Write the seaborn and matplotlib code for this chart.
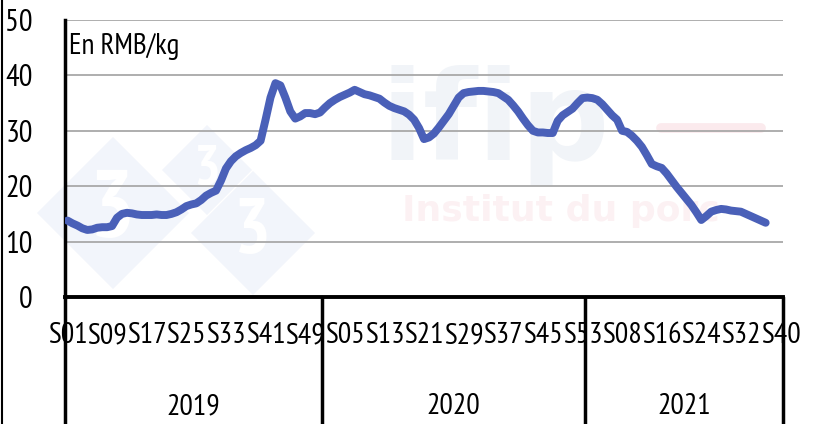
import matplotlib
matplotlib.use("Agg")
import matplotlib.pyplot as plt
from matplotlib.lines import Line2D
from matplotlib.patches import Polygon
import seaborn as sns
import pandas as pd
import numpy as np

# ---- data (RMB/kg, weekly) ----
prices_2019 = [13.8, 13.3, 12.9, 12.4, 12.1, 12.2, 12.5, 12.6, 12.6, 12.8,
               14.3, 15.0, 15.2, 15.1, 14.9, 14.8, 14.8, 14.8, 14.9, 14.8,
               14.8, 15.0, 15.3, 15.8, 16.4, 16.7, 16.9, 17.5, 18.3, 18.8,
               19.2, 21.0, 23.2, 24.5, 25.4, 26.0, 26.5, 26.9, 27.4, 28.2,
               32.0, 36.0, 38.6, 38.2, 36.0, 33.5, 32.2, 32.6, 33.2, 33.2,
               33.0, 33.3]
prices_2020 = [34.2, 35.0, 35.6, 36.1, 36.5, 36.9, 37.4, 37.0, 36.6, 36.4,
               36.1, 35.8, 35.1, 34.5, 34.1, 33.8, 33.5, 32.9, 32.0, 30.5,
               28.5, 28.8, 29.5, 30.6, 31.8, 33.0, 34.5, 36.0, 36.8, 37.0,
               37.1, 37.2, 37.2, 37.1, 37.0, 36.8, 36.2, 35.6, 34.6, 33.5,
               32.2, 31.0, 30.0, 29.7, 29.7, 29.6, 29.6, 31.8, 32.8, 33.4,
               34.0, 35.0, 35.9]
prices_2021 = [36.0, 35.9, 35.6, 34.8, 33.8, 32.8, 32.0, 30.0, 29.8, 29.1,
               28.2, 27.1, 25.6, 24.0, 23.6, 23.3, 22.3, 21.1, 19.9, 18.8,
               17.7, 16.6, 15.3, 13.9, 14.6, 15.4, 15.7, 15.9, 15.8, 15.6,
               15.5, 15.4, 15.0, 14.6, 14.2, 13.8, 13.4]
years = ["2019", "2020", "2021"]
weeks_per_year = [52, 53, 40]
unit_label = "En RMB/kg"
y_ticks = [0, 10, 20, 30, 40, 50]

# ---- build table ----
rows = []
for yr, nweeks, vals in zip(years, weeks_per_year,
                            [prices_2019, prices_2020, prices_2021]):
    for w in range(1, nweeks + 1):
        v = vals[w - 1] if w <= len(vals) else np.nan
        rows.append({"year": yr, "week": w, "price": v})
df = pd.DataFrame(rows)
df["idx"] = np.arange(len(df))
df["label"] = ["S%02d" % w for w in df["week"]]
n = len(df)

sns.set_style("white")
FONT = ["PT Sans Narrow", "DejaVu Sans"]
plt.rcParams["font.family"] = FONT
plt.rcParams["text.color"] = "black"
plt.rcParams["xtick.color"] = "black"
plt.rcParams["ytick.color"] = "black"

W, H = 820, 424
fig = plt.figure(figsize=(W / 100, H / 100), dpi=100)
L, R, T, B = 65 / W, 783 / W, 1 - 20 / H, 1 - 297 / H
ax = fig.add_axes([L, B, R - L, T - B])

# faint watermarks (3tres3 diamonds, ifip logo)
def px(x, y):
    return (x / W, 1 - y / H)
for c, hw in [((113, 213), 76), ((207, 170), 45), ((253, 233), 62)]:
    cx, cy = c
    pts = [px(cx - hw, cy), px(cx, cy - hw), px(cx + hw, cy), px(cx, cy + hw)]
    fig.add_artist(Polygon(pts, closed=True, transform=fig.transFigure,
                           facecolor="#f2f5fb", edgecolor="none", zorder=-1))
    fig.text(cx / W, 1 - cy / H, "3", fontsize=hw * 0.9, color="white",
             ha="center", va="center", fontweight="bold", zorder=-1)
ax.patch.set_alpha(0)
ax.text(0.60, 0.62, "ifip", transform=ax.transAxes, fontsize=90,
        color="#f1f4f8", fontweight="bold", ha="center", va="center",
        family="DejaVu Sans", zorder=0)
ax.text(0.69, 0.31, "Institut du porc", transform=ax.transAxes, fontsize=26,
        color="#fcf1f3", fontweight="bold", ha="center", va="center",
        family="DejaVu Sans", zorder=0)
ax.add_line(Line2D([0.83, 0.97], [0.61, 0.61], transform=ax.transAxes,
                   color="#fbeaed", lw=7, solid_capstyle="round", zorder=0))

sns.lineplot(data=df, x="idx", y="price", ax=ax, color="#4a60b8",
             linewidth=5.7, zorder=3)
for l in ax.get_lines():
    l.set_solid_capstyle("round")
    l.set_solid_joinstyle("round")

ax.set_xlim(-0.5, n - 0.5)
ax.set_ylim(0, 50)
ax.set_yticks(y_ticks)
ax.set_yticklabels([str(t) for t in y_ticks], fontsize=22)
tick_pos = df["idx"][::8].tolist()
ax.set_xticks(tick_pos)
ax.set_xticklabels(df["label"][::8].tolist(), fontsize=21.5)
ax.tick_params(axis="x", length=0, pad=18)
ax.tick_params(axis="y", direction="in", length=8, width=2.5, pad=23)
ax.set_xlabel("")
ax.set_ylabel("")
ax.grid(axis="y", color="#a8a8a8", linewidth=1.3)
ax.set_axisbelow(True)
for s in ["top", "right"]:
    ax.spines[s].set_visible(False)
ax.spines["left"].set_linewidth(2.5)
ax.spines["bottom"].set_linewidth(2.8)
ax.spines["left"].set_color("black")
ax.spines["bottom"].set_color("black")

ax.text(0.005, 0.905, unit_label, transform=ax.transAxes, fontsize=21,
        ha="left", va="center")

# year group separators and labels
bottom_frac = -(H - 297 + 5) / (297 - 20)
trans = ax.get_xaxis_transform()
bounds = [-0.5]
acc = -0.5
for nw in weeks_per_year:
    acc += nw
    bounds.append(acc)
for b in bounds:
    ax.add_line(Line2D([b, b], [0, bottom_frac], transform=trans,
                       color="black", lw=2.5, clip_on=False))
for i, yr in enumerate(years):
    ax.text((bounds[i] + bounds[i + 1]) / 2, -(407 - 297) / (297 - 20), yr,
            transform=trans, fontsize=21.5, ha="center", va="center")

# left image border line
fig.add_artist(Line2D([2.5 / W, 2.5 / W], [0, 1], color="black", lw=1.5))

fig.savefig("out.png", dpi=100)
